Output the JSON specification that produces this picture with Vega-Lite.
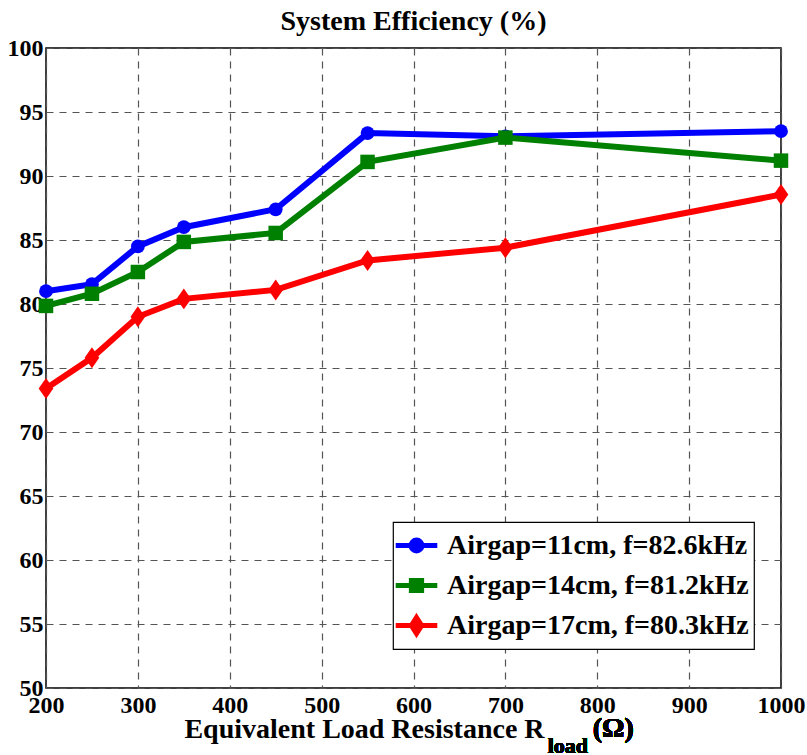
{
  "$schema": "https://vega.github.io/schema/vega-lite/v6.json",
  "autosize": "none",
  "width": 735,
  "height": 640,
  "padding": {"left": 46, "top": 48, "right": 26, "bottom": 67},
  "background": "white",
  "config": {
    "font": "Liberation Serif",
    "view": {"stroke": "black", "strokeWidth": 1.5},
    "axis": {
      "labelFont": "Liberation Serif", "labelFontWeight": "bold", "labelFontSize": 24, "labelColor": "black",
      "titleFont": "Liberation Serif", "titleFontWeight": "bold", "titleColor": "black",
      "grid": true, "gridColor": "#555555", "gridDash": [7, 6], "gridWidth": 1.2,
      "ticks": false, "domain": false, "labelFlush": false, "labelOverlap": false
    },
    "legend": {"labelFont": "Liberation Serif"}
  },
  "title": {
    "text": "System Efficiency (%)",
    "font": "Liberation Serif", "fontWeight": "bold", "fontSize": 28, "color": "black",
    "anchor": "middle", "offset": 0
  },
  "data": {"values": [
    {"r": 200, "eff": 81.0, "series": "Airgap=11cm, f=82.6kHz"},
    {"r": 250, "eff": 81.55, "series": "Airgap=11cm, f=82.6kHz"},
    {"r": 300, "eff": 84.5, "series": "Airgap=11cm, f=82.6kHz"},
    {"r": 350, "eff": 86.0, "series": "Airgap=11cm, f=82.6kHz"},
    {"r": 450, "eff": 87.4, "series": "Airgap=11cm, f=82.6kHz"},
    {"r": 550, "eff": 93.35, "series": "Airgap=11cm, f=82.6kHz"},
    {"r": 700, "eff": 93.1, "series": "Airgap=11cm, f=82.6kHz"},
    {"r": 1000, "eff": 93.5, "series": "Airgap=11cm, f=82.6kHz"},
    {"r": 200, "eff": 79.85, "series": "Airgap=14cm, f=81.2kHz"},
    {"r": 250, "eff": 80.8, "series": "Airgap=14cm, f=81.2kHz"},
    {"r": 300, "eff": 82.5, "series": "Airgap=14cm, f=81.2kHz"},
    {"r": 350, "eff": 84.85, "series": "Airgap=14cm, f=81.2kHz"},
    {"r": 450, "eff": 85.55, "series": "Airgap=14cm, f=81.2kHz"},
    {"r": 550, "eff": 91.1, "series": "Airgap=14cm, f=81.2kHz"},
    {"r": 700, "eff": 93.0, "series": "Airgap=14cm, f=81.2kHz"},
    {"r": 1000, "eff": 91.2, "series": "Airgap=14cm, f=81.2kHz"},
    {"r": 200, "eff": 73.4, "series": "Airgap=17cm, f=80.3kHz"},
    {"r": 250, "eff": 75.8, "series": "Airgap=17cm, f=80.3kHz"},
    {"r": 300, "eff": 79.0, "series": "Airgap=17cm, f=80.3kHz"},
    {"r": 350, "eff": 80.4, "series": "Airgap=17cm, f=80.3kHz"},
    {"r": 450, "eff": 81.1, "series": "Airgap=17cm, f=80.3kHz"},
    {"r": 550, "eff": 83.4, "series": "Airgap=17cm, f=80.3kHz"},
    {"r": 700, "eff": 84.4, "series": "Airgap=17cm, f=80.3kHz"},
    {"r": 1000, "eff": 88.55, "series": "Airgap=17cm, f=80.3kHz"}
  ]},
  "encoding": {
    "x": {"field": "r", "type": "quantitative",
          "scale": {"domain": [200, 1000], "nice": false, "zero": false},
          "axis": {"values": [200, 300, 400, 500, 600, 700, 800, 900, 1000], "format": "d", "labelPadding": 5,
                   "title": "Equivalent Load Resistance R", "titleFontSize": 28,
                   "titleX": 318, "titleY": 49, "titleBaseline": "alphabetic", "titleAlign": "center"}},
    "y": {"field": "eff", "type": "quantitative",
          "scale": {"domain": [50, 100], "nice": false, "zero": false},
          "axis": {"values": [50, 55, 60, 65, 70, 75, 80, 85, 90, 95, 100], "labelPadding": 3, "title": null}}
  },
  "layer": [
    {
      "mark": {"type": "line", "strokeWidth": 6, "clip": false},
      "encoding": {
        "color": {"field": "series", "type": "nominal",
                  "scale": {"domain": ["Airgap=11cm, f=82.6kHz", "Airgap=14cm, f=81.2kHz", "Airgap=17cm, f=80.3kHz"],
                            "range": ["#0000ff", "#008000", "#ff0000"]},
                  "legend": {
                    "title": null, "orient": "none", "legendX": 347, "legendY": 474,
                    "fillColor": "white", "strokeColor": "black", "padding": 5, "cornerRadius": 0,
                    "labelFont": "Liberation Serif", "labelFontWeight": "bold", "labelFontSize": 28, "labelColor": "black", "labelLimit": 0,
                    "symbolSize": 1024, "symbolStrokeWidth": 5, "labelOffset": 12, "rowPadding": 6,
                    "encode": {
                      "legend": {"update": {"strokeWidth": {"value": 1.2}}},
                      "symbols": {"update": {
                      "shape": {"signal": "datum.value == 'Airgap=11cm, f=82.6kHz' ? 'M-1.3,0H1.3M0.34,0A0.34,0.34 0 1,1 -0.34,0A0.34,0.34 0 1,1 0.34,0Z' : datum.value == 'Airgap=14cm, f=81.2kHz' ? 'M-1.3,0H1.3M-0.32,-0.32H0.32V0.32H-0.32Z' : 'M-1.3,0H1.3M0,-0.5L0.32,0L0,0.5L-0.32,0Z'"},
                      "fill": {"signal": "datum.value == 'Airgap=11cm, f=82.6kHz' ? '#0000ff' : datum.value == 'Airgap=14cm, f=81.2kHz' ? '#008000' : '#ff0000'"},
                      "stroke": {"signal": "datum.value == 'Airgap=11cm, f=82.6kHz' ? '#0000ff' : datum.value == 'Airgap=14cm, f=81.2kHz' ? '#008000' : '#ff0000'"},
                      "strokeWidth": {"value": 5},
                      "opacity": {"value": 1}
                    }}}
                  }}
      }
    },
    {
      "transform": [{"filter": "datum.series == 'Airgap=11cm, f=82.6kHz'"}],
      "mark": {"type": "point", "filled": true, "opacity": 1, "clip": false, "shape": "circle", "size": 190, "color": "#0000ff"}
    },
    {
      "transform": [{"filter": "datum.series == 'Airgap=14cm, f=81.2kHz'"}],
      "mark": {"type": "point", "filled": true, "opacity": 1, "clip": false, "shape": "square", "size": 210, "color": "#008000"}
    },
    {
      "transform": [{"filter": "datum.series == 'Airgap=17cm, f=80.3kHz'"}],
      "mark": {"type": "point", "filled": true, "opacity": 1, "clip": false, "shape": "M0,-1L0.7,0L0,1L-0.7,0Z", "size": 440, "color": "#ff0000"}
    },
    {
      "mark": {"type": "text", "font": "Liberation Serif", "fontWeight": "bold", "fontSize": 22, "align": "left", "baseline": "alphabetic", "color": "black"},
      "encoding": {
        "x": {"datum": 746},
        "y": {"datum": 44.9},
        "text": {"value": "load"}
      }
    },
    {
      "mark": {"type": "text", "font": "Liberation Serif", "fontWeight": "bold", "fontSize": 28, "align": "left", "baseline": "alphabetic", "color": "black"},
      "encoding": {
        "x": {"datum": 795},
        "y": {"datum": 46.17},
        "text": {"value": "(Ω)"}
      }
    }
  ]
}
